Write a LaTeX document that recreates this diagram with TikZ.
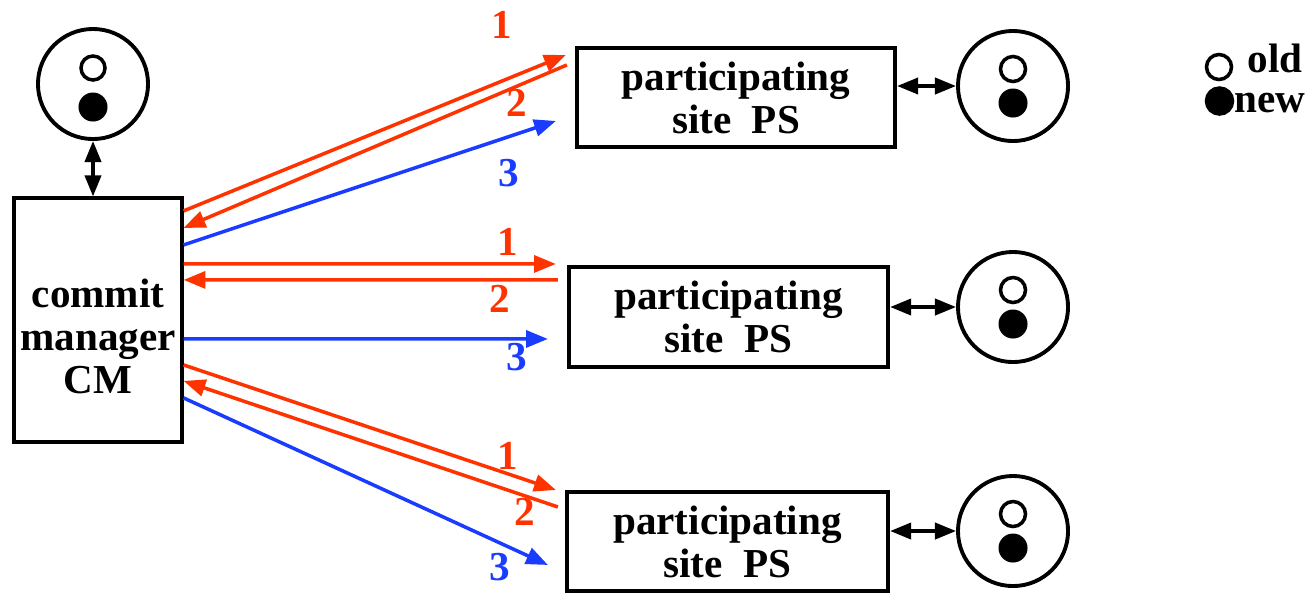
\documentclass[tikz,border=0pt]{standalone}
\usepackage{fontspec}
\setmainfont{Liberation Serif}[BoldFont={Liberation Serif Bold}]
\usetikzlibrary{positioning,arrows.meta}

\definecolor{msgred}{RGB}{255,51,0}
\definecolor{msgblue}{RGB}{26,60,255}

\tikzset{
  txt/.style={font=\fontsize{11.7}{12.2}\selectfont\bfseries},
  box/.style={draw, line width=1.15pt, inner sep=0pt, align=center, txt},
  store/.style={draw, circle, line width=1.1pt, minimum size=1.1cm, inner sep=0pt},
  legdot/.style={draw, circle, line width=1pt, minimum size=0.25cm, inner sep=0pt},
  num/.style={txt, inner sep=0pt},
  msg/.style={line width=1pt, -{Triangle[length=6.2pt,width=4.8pt]}},
  both/.style={line width=1pt, {Triangle[length=6pt,width=4.6pt]}-{Triangle[length=6pt,width=4.6pt]}},
}

\begin{document}
\begin{tikzpicture}[x=0.01cm, y=-0.01cm]
  \useasboundingbox (0,0) rectangle (1313,593);

  % commit manager and its store
  \node[box, minimum width=1.67cm, minimum height=2.43cm,
        label={[txt, align=center, yshift=-0.16cm]center:{commit\\manager\\CM}}] (cm) at (98,320) {};
  \node[store] (db0) at (93,84) {};
  \draw[line width=1pt] ([yshift=0.16cm]db0.center) circle (0.12cm);
  \fill ([yshift=-0.23cm]db0.center) circle (0.145cm);
  \draw[both] (db0.south) -- (db0.south |- cm.north);

  % participating sites
  \node[box, minimum width=3.18cm, minimum height=0.99cm] (ps1) at (736,97.5) {participating\\site~~PS};
  \node[box, minimum width=3.19cm, minimum height=1.00cm] (ps2) at (728.5,317) {participating\\site~~PS};
  \node[box, minimum width=3.21cm, minimum height=0.99cm] (ps3) at (727.5,541.5) {participating\\site~~PS};

  \node[store] (db1) at (1013,86) {};
  \node[store] (db2) at (1013,307) {};
  \node[store] (db3) at (1013,531) {};
  \draw[line width=1pt] ([yshift=0.17cm]db1.center) circle (0.125cm);
  \fill ([yshift=-0.17cm]db1.center) circle (0.145cm);
  \draw[line width=1pt] ([yshift=0.17cm]db2.center) circle (0.125cm);
  \fill ([yshift=-0.17cm]db2.center) circle (0.145cm);
  \draw[line width=1pt] ([yshift=0.17cm]db3.center) circle (0.125cm);
  \fill ([yshift=-0.17cm]db3.center) circle (0.145cm);

  \draw[both] (ps1.east |- db1.west) -- (db1.west);
  \draw[both] (ps2.east |- db2.west) -- (db2.west);
  \draw[both] (ps3.east |- db3.west) -- (db3.west);

  % phase 1, 2, 3 to the first site
  \draw[msg, msgred] ([shift={(0,14.5)}]cm.north east) -- ([shift={(-9,9)}]ps1.north west);
  \draw[msg, msgred] ([shift={(-8,19)}]ps1.north west) -- ([shift={(0,31.5)}]cm.north east);
  \draw[msg, msgblue] ([shift={(0,48.5)}]cm.north east) -- ([shift={(-19,75)}]ps1.north west);
  \node[num, msgred] (a1) at (502,25) {1};
  \node[num, msgred] (a2) at (517,103) {2};
  \node[num, msgblue] (a3) at (509,173) {3};

  % second site
  \draw[msg, msgred] ([shift={(0,67.5)}]cm.north east) -- ([shift={(-11,-1)}]ps2.north west);
  \draw[msg, msgred] ([shift={(-9,15)}]ps2.north west) -- ([shift={(0,83.5)}]cm.north east);
  \draw[msg, msgblue] ([shift={(0,142.5)}]cm.north east) -- ([shift={(-19,74)}]ps2.north west);
  \node[num, msgred] (b1) at (508,242) {1};
  \node[num, msgred] (b2) at (500,299) {2};
  \node[num, msgblue] (b3) at (517,357) {3};

  % third site
  \draw[msg, msgred] ([shift={(0,168.5)}]cm.north east) -- ([shift={(-9,0)}]ps3.north west);
  \draw[msg, msgred] ([shift={(-7,17)}]ps3.north west) -- ([shift={(0,184.5)}]cm.north east);
  \draw[msg, msgblue] ([shift={(0,201.5)}]cm.north east) -- ([shift={(-17,75)}]ps3.north west);
  \node[num, msgred] (c1) at (508,456) {1};
  \node[num, msgred] (c2) at (525,512) {2};
  \node[num, msgblue] (c3) at (500,567) {3};

  % legend
  \node[legdot] (oldmark) at (1219,67) {};
  \node[legdot, fill, minimum size=0.26cm] (newmark) at (1219.5,101) {};
  \node[txt, inner sep=0pt, anchor=base west] (oldtxt) at (1247,72) {old};
  \node[txt, inner sep=0pt, anchor=base west] (newtxt) at (1234,112) {new};
\end{tikzpicture}
\end{document}
